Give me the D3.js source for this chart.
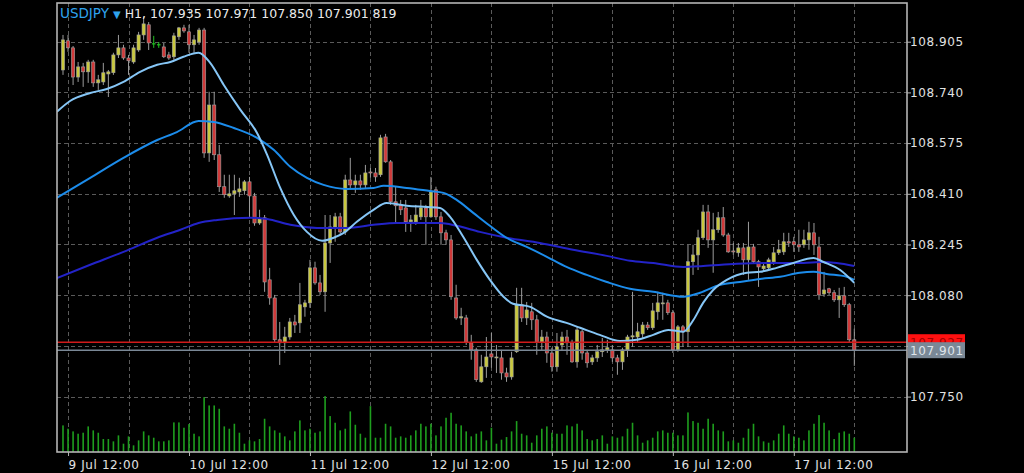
<!DOCTYPE html>
<html><head><meta charset="utf-8">
<script src="https://cdn.jsdelivr.net/npm/d3@7"></script>
<style>
html,body{margin:0;padding:0;background:#000;}
svg{display:block;}
text{font-family:"DejaVu Sans",sans-serif;}
</style></head><body>
<svg id="c" width="1024" height="473"></svg>
<script>
// ---------- data ----------
const symbol = "USDJPY";
const timeframe = "H1";
const headerValues = ["107.935", "107.971", "107.850", "107.901", "819"];
const askPrice = 107.927;
const bidPrice = 107.901;

const openP = [
108.813,108.908,108.885,108.790,108.823,108.807,108.839,108.771,108.774,108.800,
108.804,108.862,108.885,108.852,108.839,108.878,108.927,108.960,108.898,108.895,
108.888,108.862,108.856,108.921,108.950,108.937,108.895,108.904,108.943,108.543,
108.699,108.537,108.433,108.403,108.410,108.416,108.420,108.449,108.403,108.315,
108.332,108.130,108.071,107.935,107.925,107.944,107.993,107.990,108.042,108.055,
108.169,108.120,108.091,108.250,108.302,108.335,108.286,108.455,108.439,108.452,
108.439,108.481,108.478,108.472,108.595,108.514,108.384,108.374,108.364,108.319,
108.319,108.335,108.364,108.335,108.423,108.335,108.283,108.260,108.071,108.006,
108.006,107.925,107.902,107.798,107.847,107.889,107.876,107.876,107.827,107.814,
107.896,108.049,108.006,108.026,108.000,107.928,107.944,107.892,107.847,107.918,
107.944,107.925,107.863,107.961,107.892,107.863,107.876,107.896,107.902,107.902,
107.876,107.863,107.902,107.944,107.944,107.954,107.983,107.974,108.026,108.052,
108.055,108.023,107.902,107.977,107.961,108.189,108.211,108.267,108.351,108.260,
108.293,108.332,108.276,108.224,108.218,108.234,108.195,108.237,108.189,108.166,
108.169,108.189,108.218,108.221,108.254,108.254,108.244,108.244,108.260,108.283,
108.237,108.084,108.101,108.088,108.065,108.078,108.049,107.935];
const highP = [
108.927,108.927,108.891,108.839,108.836,108.846,108.846,108.797,108.836,108.813,
108.869,108.927,108.895,108.862,108.895,108.937,108.986,108.969,108.924,108.904,
108.901,108.872,108.934,108.953,108.960,108.960,108.927,108.950,108.950,108.742,
108.742,108.569,108.472,108.472,108.472,108.462,108.455,108.465,108.413,108.358,
108.341,108.169,108.081,107.993,107.977,108.006,108.016,108.120,108.065,108.195,
108.189,108.146,108.341,108.341,108.348,108.348,108.472,108.527,108.472,108.472,
108.504,108.494,108.494,108.602,108.605,108.520,108.433,108.390,108.390,108.341,
108.374,108.390,108.374,108.465,108.433,108.351,108.293,108.276,108.114,108.039,
108.016,107.951,107.909,107.886,107.944,107.957,107.918,107.902,107.844,107.896,
108.104,108.104,108.058,108.055,108.016,107.967,107.961,107.909,107.957,107.961,
107.967,107.935,107.977,107.967,107.902,107.886,107.918,107.941,107.935,107.918,
107.886,107.909,107.951,108.091,107.990,107.993,107.993,108.055,108.091,108.088,
108.065,108.032,107.983,107.983,108.244,108.244,108.293,108.374,108.374,108.348,
108.351,108.367,108.283,108.250,108.250,108.250,108.319,108.247,108.195,108.185,
108.202,108.237,108.260,108.283,108.283,108.270,108.293,108.293,108.319,108.315,
108.270,108.156,108.104,108.097,108.104,108.107,108.055,107.971];
const lowP = [
108.797,108.872,108.764,108.774,108.758,108.771,108.758,108.748,108.764,108.725,
108.797,108.852,108.846,108.797,108.833,108.872,108.911,108.878,108.885,108.885,
108.852,108.846,108.846,108.911,108.934,108.869,108.869,108.895,108.527,108.514,
108.520,108.416,108.397,108.397,108.341,108.400,108.407,108.335,108.306,108.309,
108.091,108.049,107.925,107.853,107.892,107.935,107.957,107.957,108.010,108.039,
108.114,108.081,108.026,108.185,108.254,108.276,108.276,108.429,108.413,108.423,
108.429,108.462,108.449,108.465,108.511,108.374,108.315,108.341,108.286,108.286,
108.309,108.325,108.244,108.332,108.325,108.244,108.244,108.065,108.000,107.983,
107.918,107.870,107.798,107.795,107.811,107.844,107.827,107.805,107.798,107.805,
107.892,107.993,107.983,107.967,107.886,107.902,107.860,107.831,107.831,107.902,
107.886,107.860,107.844,107.870,107.844,107.853,107.863,107.879,107.892,107.863,
107.821,107.837,107.879,107.912,107.928,107.941,107.967,107.967,108.000,108.000,
108.016,107.892,107.896,107.912,107.912,108.146,108.162,108.260,108.234,108.153,
108.283,108.270,108.218,108.211,108.205,108.146,108.130,108.182,108.107,108.156,
108.162,108.179,108.211,108.211,108.237,108.221,108.221,108.234,108.228,108.211,
108.065,108.075,108.081,108.058,108.006,108.042,107.928,107.850];
const closeP = [
108.911,108.885,108.790,108.823,108.807,108.839,108.771,108.781,108.804,108.807,
108.862,108.885,108.852,108.843,108.885,108.927,108.963,108.901,108.898,108.895,
108.856,108.852,108.924,108.950,108.940,108.895,108.911,108.943,108.543,108.699,
108.537,108.433,108.407,108.410,108.420,108.426,108.449,108.403,108.315,108.328,
108.123,108.071,107.935,107.925,107.944,107.993,107.983,108.049,108.055,108.169,
108.120,108.091,108.250,108.302,108.335,108.286,108.455,108.439,108.452,108.439,
108.478,108.478,108.465,108.592,108.514,108.384,108.371,108.358,108.319,108.325,
108.341,108.364,108.335,108.416,108.335,108.283,108.260,108.075,108.006,108.010,
107.928,107.902,107.805,107.847,107.879,107.879,107.879,107.827,107.814,107.876,
108.049,108.006,108.032,108.000,107.928,107.944,107.892,107.847,107.912,107.944,
107.925,107.863,107.967,107.892,107.860,107.876,107.896,107.902,107.909,107.876,
107.863,107.902,107.944,107.948,107.961,107.983,107.974,108.029,108.055,108.055,
108.023,107.902,107.977,107.961,108.189,108.211,108.267,108.351,108.260,108.293,
108.332,108.276,108.221,108.221,108.234,108.195,108.237,108.189,108.172,108.175,
108.195,108.218,108.228,108.254,108.250,108.244,108.237,108.260,108.283,108.244,
108.081,108.097,108.088,108.065,108.078,108.049,107.935,107.901];
const volumes = [
1520,1330,1178,1045,1102,1463,1235,1102,741,741,
608,950,475,893,380,665,1178,950,817,608,
608,665,1691,1691,1387,1596,1045,893,3135,2660,
2660,2470,1463,1330,1615,1102,475,665,608,741,
1900,1463,1235,1102,893,665,1178,1805,1235,1330,
1102,1178,3192,2052,1672,1235,1330,2318,1558,1045,
817,2622,817,817,1615,1463,817,893,817,950,
1235,1615,1463,1615,950,1463,1957,2242,1615,1520,
1178,893,1045,1178,665,1387,475,703,855,1178,
1767,1045,950,532,950,1330,1463,1102,1045,1045,
1520,1463,1615,1235,741,665,741,950,475,893,
817,893,1330,1672,950,532,665,817,1178,1235,
1102,1102,950,950,2261,1767,1672,1330,1900,1615,
1235,1178,608,665,532,817,1330,1615,893,608,
532,665,1045,1520,1045,893,817,665,1235,1615,
2109,1672,1235,741,1102,1178,1045,819];

// moving averages (bar index, price)
const fastIdx = [-1.2,1.4,5.4,8.7,12.0,15.3,18.7,21.3,23.9,26.9,29.2,31.9,35.2,38.5,40.5,43.1,45.8,48.4,51.4,53.7,55.7,58.3,61.6,64.2,68.2,72.2,74.8,76.8,79.4,82.1,84.7,87.4,89.3,92.7,96.0,99.9,102.6,106.5,110.5,113.8,117.1,120.1,123.1,125.1,127.0,129.0,131.7,135.7,138.3,141.6,144.9,148.9,150.9,154.2,157];
const fastMA = [108.677,108.712,108.738,108.751,108.774,108.807,108.830,108.839,108.856,108.869,108.836,108.764,108.683,108.608,108.537,108.429,108.341,108.286,108.257,108.267,108.283,108.319,108.358,108.380,108.371,108.367,108.364,108.335,108.270,108.195,108.130,108.075,108.052,108.042,108.010,107.990,107.974,107.951,107.931,107.935,107.951,107.967,107.961,108.000,108.055,108.097,108.130,108.153,108.156,108.169,108.185,108.201,108.188,108.162,108.120];
const midIdx = [-1.2,5.4,12.0,18.7,22.6,26.9,29.9,33.9,38.5,41.8,45.1,48.4,51.7,56.3,61.6,63.6,68.2,72.8,75.5,78.1,81.4,84.7,88.0,92.0,96.0,99.9,103.9,107.9,112.5,117.1,123.1,126.4,130.4,134.3,138.3,142.3,146.2,148.9,151.5,155.5,157];
const midMA = [108.397,108.462,108.527,108.585,108.611,108.647,108.644,108.624,108.592,108.553,108.498,108.462,108.439,108.426,108.429,108.436,108.429,108.419,108.413,108.390,108.348,108.306,108.267,108.237,108.205,108.172,108.146,108.123,108.101,108.091,108.075,108.088,108.114,108.123,108.133,108.140,108.153,108.156,108.149,108.140,108.130];
const slowIdx = [-1.2,5.4,12.0,18.7,23.3,26.9,30.6,37.2,40.5,45.1,50.4,56.3,61.6,66.2,74.8,78.1,82.7,88.0,94.6,101.2,107.9,112.5,117.1,123.1,127.0,133.7,140.3,146.9,150.2,153.5,157];
const slowMA = [108.136,108.179,108.221,108.267,108.293,108.315,108.325,108.332,108.328,108.309,108.299,108.299,108.309,108.315,108.315,108.306,108.286,108.267,108.250,108.228,108.208,108.192,108.185,108.172,108.175,108.182,108.185,108.185,108.188,108.185,108.175];

// axis ticks
const priceTicks = [108.905, 108.740, 108.575, 108.410, 108.245, 108.080, 107.915, 107.750];
const priceTickLabels = ["108.905","108.740","108.575","108.410","108.245","108.080","","107.750"];
const timeTickIndex = [1, 25, 49, 73, 97, 121, 145];
const timeTickLabels = ["9 Jul 12:00","10 Jul 12:00","11 Jul 12:00","12 Jul 12:00","15 Jul 12:00","16 Jul 12:00","17 Jul 12:00"];
const gridStep = 12;

// ---------- drawing ----------
const svg = d3.select("#c");
const P = {left:57, right:907, top:3, bottom:452};
const n = openP.length;
const x = d3.scaleLinear().domain([0, n-1]).range([63, 854.3]);
const y = d3.scaleLinear().domain([107.750, 108.905]).range([396.6, 41.7]);
const vy = d3.scaleLinear().domain([0, 3200]).range([P.bottom, P.bottom-56]);

svg.append("rect").attr("width",1024).attr("height",473).attr("fill","#000");
svg.append("defs").append("clipPath").attr("id","clip")
  .append("rect").attr("x",P.left).attr("y",P.top).attr("width",P.right-P.left).attr("height",P.bottom-P.top);

// grid
const grid = svg.append("g").attr("stroke","#5a5a5a").attr("stroke-width",1).attr("stroke-dasharray","4,3");
grid.selectAll("line.h").data(priceTicks).join("line")
  .attr("x1",P.left).attr("x2",P.right)
  .attr("y1",d=>Math.round(y(d))+0.5).attr("y2",d=>Math.round(y(d))+0.5);
const gridIdx = d3.range(1, n, gridStep);
grid.selectAll("line.v").data(gridIdx).join("line")
  .attr("y1",P.top).attr("y2",P.bottom)
  .attr("x1",d=>Math.round(x(d))+0.5).attr("x2",d=>Math.round(x(d))+0.5);

const bars = d3.range(n).map(i=>({i,o:openP[i],h:highP[i],l:lowP[i],c:closeP[i],v:volumes[i]}));
const plotG = svg.append("g").attr("clip-path","url(#clip)");

// volumes
plotG.append("g").selectAll("rect").data(bars).join("rect")
  .attr("x",d=>x(d.i)-0.8).attr("width",1.6)
  .attr("y",d=>vy(d.v)).attr("height",d=>P.bottom-vy(d.v))
  .attr("fill","#1e9e1e");

// candles
const cg = plotG.append("g");
cg.selectAll("line.w").data(bars).join("line")
  .attr("x1",d=>x(d.i)).attr("x2",d=>x(d.i))
  .attr("y1",d=>y(d.h)).attr("y2",d=>y(d.l))
  .attr("stroke",d=>d.o===d.c?"#22c022":"#9c9c9c").attr("stroke-width",1);
cg.selectAll("rect.b").data(bars.filter(d=>d.o!==d.c)).join("rect")
  .attr("x",d=>x(d.i)-1.6).attr("width",3.2)
  .attr("y",d=>y(Math.max(d.o,d.c)))
  .attr("height",d=>Math.max(1,Math.abs(y(d.o)-y(d.c))))
  .attr("fill",d=>d.c>d.o?"#c9c83e":"#d03a3a")
  .attr("stroke","#a0a0a0").attr("stroke-width",0.6);
cg.selectAll("line.d").data(bars.filter(d=>d.o===d.c)).join("line")
  .attr("x1",d=>x(d.i)-1.8).attr("x2",d=>x(d.i)+1.8)
  .attr("y1",d=>y(d.o)).attr("y2",d=>y(d.o))
  .attr("stroke","#22c022").attr("stroke-width",1.2);

// moving averages
const line = d3.line().x(d=>x(d[0])).y(d=>y(d[1])).curve(d3.curveMonotoneX);
const maSets = [
  {idx:slowIdx, val:slowMA, color:"#2323c8"},
  {idx:midIdx, val:midMA, color:"#1c8ceb"},
  {idx:fastIdx, val:fastMA, color:"#86c6f6"}
];
maSets.forEach(s=>{
  plotG.append("path").datum(s.idx.map((k,j)=>[k,s.val[j]]))
    .attr("d",line).attr("fill","none").attr("stroke",s.color).attr("stroke-width",2);
});

// price lines
plotG.append("line").attr("x1",P.left).attr("x2",P.right)
  .attr("y1",y(askPrice)).attr("y2",y(askPrice)).attr("stroke","#d11a1a").attr("stroke-width",1.5);
plotG.append("line").attr("x1",P.left).attr("x2",P.right)
  .attr("y1",y(bidPrice)).attr("y2",y(bidPrice)).attr("stroke","#7a8896").attr("stroke-width",1.5);

// frame
svg.append("rect").attr("x",P.left).attr("y",P.top).attr("width",P.right-P.left).attr("height",P.bottom-P.top)
  .attr("fill","none").attr("stroke","#b4b4b4").attr("stroke-width",1.6);

// right axis
const yAxis = d3.axisRight(y).tickValues(priceTicks)
  .tickFormat((d,i)=>priceTickLabels[i]).tickSize(4).tickPadding(0);
const ya = svg.append("g").attr("transform",`translate(${P.right},0)`).call(yAxis);
ya.select(".domain").remove();
ya.selectAll("line").attr("stroke","#b4b4b4");
ya.selectAll("text").attr("fill","#e2e2e2").attr("font-size",12).attr("letter-spacing","0.6px")
  .attr("x",3).attr("font-family","DejaVu Sans");

// bottom axis
const xAxis = d3.axisBottom(x).tickValues(timeTickIndex)
  .tickFormat((d,i)=>timeTickLabels[i]).tickSize(4).tickPadding(2);
const xa = svg.append("g").attr("transform",`translate(0,${P.bottom})`).call(xAxis);
xa.select(".domain").remove();
xa.selectAll("line").attr("stroke","#b4b4b4");
xa.selectAll("text").attr("fill","#e2e2e2").attr("font-size",12).attr("letter-spacing","0.6px")
  .attr("text-anchor","start").attr("font-family","DejaVu Sans").attr("dy","0.9em");

// price labels
function priceLabel(p, bg, fg){
  const g = svg.append("g").attr("transform",`translate(${P.right+1},${y(p)})`);
  g.append("rect").attr("x",0).attr("y",-8).attr("width",57).attr("height",16).attr("fill",bg);
  g.append("text").attr("x",2).attr("y",4.5).attr("fill",fg).attr("font-size",12)
    .attr("letter-spacing","0.6px").text(p.toFixed(3));
}
priceLabel(askPrice, "#ff1010", "#a00000");
priceLabel(bidPrice, "#7a8896", "#dfe4ea");

// header
const hdr = svg.append("text").attr("x",60).attr("y",18).attr("font-size",12.5).attr("fill","#ececec");
hdr.append("tspan").attr("fill","#2fa2ee").attr("font-size",13.5).text(symbol);
hdr.append("tspan").attr("fill","#2fa2ee").attr("font-size",10).attr("dx",4).text("▼");
hdr.append("tspan").attr("dx",4).text(timeframe + ", " + headerValues.join(" "));
</script>
</body></html>
